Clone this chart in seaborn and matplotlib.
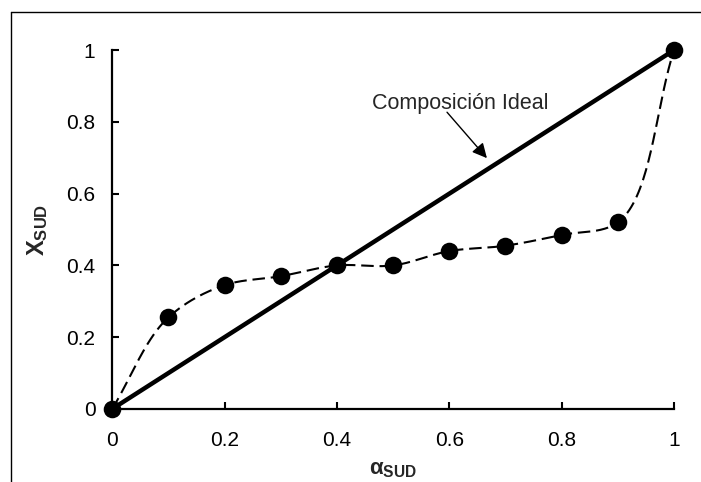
import numpy as np
import pandas as pd
import matplotlib
matplotlib.use("Agg")
import matplotlib.pyplot as plt
import seaborn as sns
from matplotlib.lines import Line2D

# ---- data ----
alpha_sud = [0.0, 0.1, 0.2, 0.3, 0.4, 0.5, 0.6, 0.7, 0.8, 0.9, 1.0]
x_sud = [0.0, 0.255, 0.345, 0.37, 0.40, 0.40, 0.44, 0.455, 0.485, 0.52, 1.0]
ideal_x = [0.0, 1.0]
ideal_y = [0.0, 1.0]
x_ticks = [0, 0.2, 0.4, 0.6, 0.8, 1]
y_ticks = [0, 0.2, 0.4, 0.6, 0.8, 1]
tick_labels = ["0", "0.2", "0.4", "0.6", "0.8", "1"]
annot_text = "Composición Ideal"

sns.set_theme(style="white")
plt.rcParams['font.family'] = ['Liberation Sans', 'DejaVu Sans']
plt.rcParams['mathtext.fontset'] = 'custom'
plt.rcParams['mathtext.rm'] = 'Liberation Sans'
plt.rcParams['mathtext.bf'] = 'Liberation Sans:bold'
plt.rcParams['mathtext.it'] = 'Liberation Sans:italic'


def catmull_rom(xs, ys, n=40, a=0.5):
    P = np.column_stack([xs, ys]).astype(float)
    P = np.vstack([2 * P[0] - P[1], P, 2 * P[-1] - P[-2]])
    out = []
    for i in range(1, len(P) - 2):
        p0, p1, p2, p3 = P[i - 1], P[i], P[i + 1], P[i + 2]
        t0 = 0.0
        t1 = t0 + np.linalg.norm(p1 - p0) ** a
        t2 = t1 + np.linalg.norm(p2 - p1) ** a
        t3 = t2 + np.linalg.norm(p3 - p2) ** a
        t = np.linspace(t1, t2, n)[:, None]
        A1 = (t1 - t) / (t1 - t0) * p0 + (t - t0) / (t1 - t0) * p1
        A2 = (t2 - t) / (t2 - t1) * p1 + (t - t1) / (t2 - t1) * p2
        A3 = (t3 - t) / (t3 - t2) * p2 + (t - t2) / (t3 - t2) * p3
        B1 = (t2 - t) / (t2 - t0) * A1 + (t - t0) / (t2 - t0) * A2
        B2 = (t3 - t) / (t3 - t1) * A2 + (t - t1) / (t3 - t1) * A3
        C = (t2 - t) / (t2 - t1) * B1 + (t - t1) / (t2 - t1) * B2
        out.append(C if i == 1 else C[1:])
    out = np.vstack(out)
    return out[:, 0], out[:, 1]


fig = plt.figure(figsize=(7.01, 4.82), dpi=100)
ax = fig.add_axes([0.160, 0.1515, 0.8015, 0.7445])

# smoothed dashed curve
cx, cy = catmull_rom(alpha_sud, x_sud)
ax.plot(cx, cy, color="black", lw=1.5, ls=(0, (6, 2.8)), zorder=2)

# ideal composition line
df_ideal = pd.DataFrame({"a": ideal_x, "x": ideal_y})
sns.lineplot(data=df_ideal, x="a", y="x", color="black", lw=3.2, ax=ax, zorder=3)

# data points
df = pd.DataFrame({"a": alpha_sud, "x": x_sud})
sns.scatterplot(data=df, x="a", y="x", color="black", s=160, edgecolor="black",
                linewidth=0, ax=ax, zorder=4, clip_on=False)

ax.set_xlim(0, 1)
ax.set_ylim(0, 1)
ax.set_xticks(x_ticks)
ax.set_xticklabels(tick_labels)
ax.set_yticks(y_ticks)
ax.set_yticklabels(tick_labels)
ax.tick_params(direction="in", length=5, width=1.5, labelsize=15, colors="black",
               bottom=True, left=True)
ax.tick_params(axis="x", pad=16)
ax.tick_params(axis="y", pad=12)
for s in ["top", "right"]:
    ax.spines[s].set_visible(False)
for s in ["left", "bottom"]:
    ax.spines[s].set_linewidth(1.6)
    ax.spines[s].set_color("black")

ax.set_xlabel(r"$\mathbf{\alpha_{SUD}}$", fontsize=16, labelpad=6)
ax.set_ylabel(r"$\mathbf{X_{SUD}}$", fontsize=17, labelpad=12)

ax.text(0.619, 0.852, annot_text, fontsize=15.5, ha="center", va="center")
ax.annotate("", xy=(0.667, 0.699), xytext=(0.596, 0.827),
            arrowprops=dict(arrowstyle="-|>", lw=1.0, color="black",
                            mutation_scale=22, shrinkA=0, shrinkB=0))

# outer frame (only top and left visible)
fig.add_artist(Line2D([0.0157, 0.0157], [0.0, 0.975], color="black", lw=1.0,
                      transform=fig.transFigure))
fig.add_artist(Line2D([0.0157, 1.0], [0.975, 0.975], color="black", lw=1.0,
                      transform=fig.transFigure))

fig.savefig("out.png", dpi=100)
